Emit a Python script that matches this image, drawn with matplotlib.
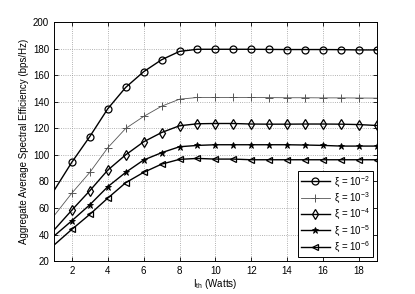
import numpy as np
import matplotlib
matplotlib.use('Agg')
import matplotlib.pyplot as plt

plt.rcParams['font.family'] = ['Liberation Sans', 'DejaVu Sans']
plt.rcParams['mathtext.fontset'] = 'custom'
plt.rcParams['mathtext.rm'] = 'Liberation Sans'
plt.rcParams['mathtext.it'] = 'Liberation Sans:italic'

# transmit power threshold (Watts)
i_th = list(range(1, 20))

# aggregate average spectral efficiency for each xi
se_xi_1e2 = [73, 94.5, 113.8, 134.7, 150.8, 162.6, 171.6, 177.9, 179.5, 179.5,
             179.5, 179.5, 179.4, 179.3, 179.3, 179.3, 179.2, 179.0, 179.0]
se_xi_1e3 = [54, 71.2, 86.8, 105.3, 119.9, 128.9, 136.6, 141.9, 143.2, 143.2,
             143.2, 143.2, 143.1, 143.0, 143.0, 142.9, 142.9, 142.8, 142.7]
se_xi_1e4 = [43.3, 58.4, 73.0, 88.5, 100.0, 109.8, 116.8, 121.9, 123.4, 123.6,
             123.6, 123.2, 123.1, 123.1, 123.2, 123.2, 123.1, 122.8, 122.1]
se_xi_1e5 = [38.8, 50.4, 62.4, 76.0, 86.8, 96.1, 101.6, 106.1, 107.1, 107.6,
             107.6, 107.6, 107.6, 107.6, 107.4, 107.1, 106.6, 106.6, 106.6]
se_xi_1e6 = [32.0, 43.9, 55.2, 67.4, 79.0, 86.8, 93.0, 96.6, 97.3, 96.8,
             96.8, 96.3, 96.3, 96.3, 96.3, 96.3, 96.3, 96.3, 96.3]

labels = ['ξ = 10$^{-2}$', 'ξ = 10$^{-3}$', 'ξ = 10$^{-4}$',
          'ξ = 10$^{-5}$', 'ξ = 10$^{-6}$']

fig = plt.figure(figsize=(4.15, 2.94), dpi=100)
ax = fig.add_axes([0.130, 0.112, 0.778, 0.813])

mk = slice(1, None)  # no marker on the left edge point
ax.plot(i_th, se_xi_1e2, color='black', lw=1.0, marker='o', ms=5,
        mfc='none', mew=0.9, markevery=mk, label=labels[0])
ax.plot(i_th, se_xi_1e3, color='#555555', lw=0.6, marker='+', ms=5.5,
        mew=0.7, markevery=mk, label=labels[1])
ax.plot(i_th, se_xi_1e4, color='black', lw=1.0, marker='d', ms=5,
        mfc='none', mew=0.9, markevery=mk, label=labels[2])
ax.plot(i_th, se_xi_1e5, color='black', lw=1.0, marker='*', ms=4.5,
        mew=0.6, markevery=mk, label=labels[3])
ax.plot(i_th, se_xi_1e6, color='black', lw=1.0, marker='<', ms=5,
        mfc='none', mew=0.9, markevery=mk, label=labels[4])

ax.set_xlim(1, 19)
ax.set_ylim(20, 200)
ax.set_xticks(range(2, 19, 2))
ax.set_yticks(range(20, 201, 20))
ax.grid(True, linestyle=':', color='#999999', linewidth=0.6)
ax.tick_params(direction='in', top=True, right=True, labelsize=7, length=3, width=0.6)
for s in ax.spines.values():
    s.set_linewidth(0.7)

ax.set_xlabel(r'I$_{\rm th}$ (Watts)', fontsize=7, labelpad=1)
ax.set_ylabel('Aggregate Average Spectral Efficiency (bps/Hz)', fontsize=7, labelpad=3)

leg = ax.legend(loc='lower right', fontsize=7, fancybox=False, edgecolor='black',
                framealpha=1, handlelength=3.0, borderaxespad=0.4,
                labelspacing=0.15, borderpad=0.3, handletextpad=0.4)
leg.get_frame().set_linewidth(0.7)

fig.savefig('out.png', dpi=100)
